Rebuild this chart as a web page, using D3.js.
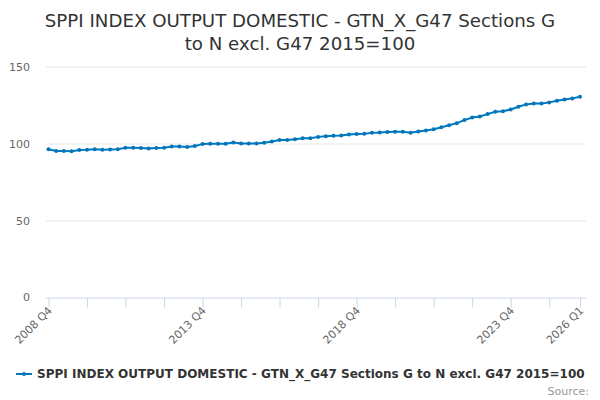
<!DOCTYPE html>
<html>
<head>
<meta charset="utf-8">
<script src="https://cdn.jsdelivr.net/npm/d3@7"></script>
<style>
  body { margin: 0; background: #fff; }
  svg { font-family: "DejaVu Sans", sans-serif; display: block; }
</style>
</head>
<body>
<div id="chart"></div>
<script>
// Quarterly periods, 2008 Q4 .. 2026 Q1
const quarters = [];
for (let y = 2008, q = 4; y < 2026 || (y === 2026 && q <= 1); ) {
  quarters.push(y + ' Q' + q);
  q++; if (q > 4) { q = 1; y++; }
}

// Index values (2015=100)
const values = [
  96.3, 95.2, 95.2, 95.0, 95.7, 95.9, 96.3, 96.0, 96.1, 96.3,
  97.2, 97.2, 97.0, 96.8, 97.0, 97.2, 98.0, 98.0, 97.8, 98.3,
  99.7, 99.8, 99.8, 99.8, 100.7, 100.0, 100.0, 100.0, 100.5, 101.3,
  102.2, 102.2, 102.8, 103.4, 103.4, 104.3, 104.7, 105.1, 105.2, 105.9,
  106.2, 106.4, 106.9, 107.2, 107.4, 107.6, 107.6, 107.0, 107.8, 108.5,
  109.3, 110.6, 111.9, 113.2, 115.2, 116.9, 117.6, 119.1, 120.6, 121.0,
  122.1, 123.9, 125.4, 126.0, 126.0, 126.7, 127.8, 128.5, 129.3, 130.4
];

const yTicks = [0, 50, 100, 150];
const labelledQuarters = ['2008 Q4', '2013 Q4', '2018 Q4', '2023 Q4', '2026 Q1'];

const titleLines = ['SPPI INDEX OUTPUT DOMESTIC - GTN_X_G47 Sections G', 'to N excl. G47 2015=100'];
const seriesName = 'SPPI INDEX OUTPUT DOMESTIC - GTN_X_G47 Sections G to N excl. G47 2015=100';

const width = 600, height = 400;
const plot = { left: 46, right: 586, top: 66.5, bottom: 297.5 };
const lineColor = '#0076bd';

const svg = d3.select('#chart').append('svg')
  .attr('width', width)
  .attr('height', height);

// Title
svg.append('text')
  .attr('x', width / 2)
  .attr('y', 27)
  .attr('text-anchor', 'middle')
  .attr('fill', '#333')
  .style('font-size', '18.2px')
  .selectAll('tspan')
  .data(titleLines)
  .enter()
  .append('tspan')
    .attr('x', width / 2)
    .attr('dy', (d, i) => i === 0 ? 0 : 23)
    .text(d => d);

// Scales
const xScale = d3.scaleLinear()
  .domain([0, quarters.length - 1])
  .range([48.5, 580]);
const yScale = d3.scaleLinear()
  .domain([0, 150])
  .range([plot.bottom, plot.top]);

// Gridlines + y labels
const yAxis = svg.append('g')
  .attr('transform', 'translate(' + plot.left + ',0)')
  .call(d3.axisLeft(yScale)
    .tickValues(yTicks.slice(1))
    .tickSize(-(plot.right - plot.left))
    .tickPadding(16));
yAxis.select('.domain').remove();
yAxis.selectAll('.tick line').attr('stroke', '#e6e6e6');
yAxis.selectAll('.tick text')
  .attr('fill', '#666')
  .style('font-size', '11px')
  .style('font-family', '"DejaVu Sans", sans-serif');
// zero label (axis line replaces its gridline)
svg.append('text')
  .attr('x', plot.left - 16)
  .attr('y', yScale(0))
  .attr('dy', '0.32em')
  .attr('text-anchor', 'end')
  .attr('fill', '#666')
  .style('font-size', '11px')
  .text(yTicks[0]);

// X axis: ticks every 5 quarters plus the last one
const tickIdx = d3.range(0, quarters.length, 5);
tickIdx.push(quarters.length - 1);
const xAxis = svg.append('g')
  .attr('transform', 'translate(0,' + plot.bottom + ')')
  .call(d3.axisBottom(xScale)
    .tickValues(tickIdx)
    .tickSize(10)
    .tickSizeOuter(0)
    .tickFormat(i => labelledQuarters.includes(quarters[i]) ? quarters[i] : ''));
xAxis.select('.domain')
  .attr('d', 'M' + plot.left + ',0.5H' + plot.right)
  .attr('stroke', '#ccd6eb');
xAxis.selectAll('.tick line').attr('stroke', '#ccd6eb');
xAxis.selectAll('.tick text')
  .attr('fill', '#666')
  .style('font-size', '11px')
  .style('font-family', '"DejaVu Sans", sans-serif')
  .attr('text-anchor', 'end')
  .attr('dy', '0.35em')
  .attr('transform', 'translate(1,11) rotate(-45)')
  .attr('y', 0)
  .attr('x', 0);

// Line
const line = d3.line()
  .x((d, i) => xScale(i))
  .y(d => yScale(d));
svg.append('path')
  .datum(values)
  .attr('d', line)
  .attr('fill', 'none')
  .attr('stroke', lineColor)
  .attr('stroke-width', 2);
svg.selectAll('circle.pt')
  .data(values)
  .enter()
  .append('circle')
    .attr('class', 'pt')
    .attr('cx', (d, i) => xScale(i))
    .attr('cy', d => yScale(d))
    .attr('r', 2)
    .attr('fill', lineColor);

// Legend
const legend = svg.append('g').attr('transform', 'translate(16,374)');
legend.append('line')
  .attr('x1', 0).attr('x2', 16)
  .attr('y1', 0).attr('y2', 0)
  .attr('stroke', lineColor)
  .attr('stroke-width', 2);
legend.append('circle')
  .attr('cx', 8).attr('cy', 0).attr('r', 2)
  .attr('fill', lineColor);
const legendText = legend.append('text')
  .attr('x', 21)
  .attr('y', 0)
  .attr('dy', '0.35em')
  .attr('fill', '#333')
  .style('font-size', '13px')
  .style('font-weight', 'bold')
  .text(seriesName);
// shrink the legend label so it fits the same span as the reference
const maxLegendWidth = 548;
const w = legendText.node().getComputedTextLength();
if (w > maxLegendWidth) {
  legendText.style('font-size', (13 * maxLegendWidth / w) + 'px');
}

// Source credit
svg.append('text')
  .attr('x', 589)
  .attr('y', 395)
  .attr('text-anchor', 'end')
  .attr('fill', '#999')
  .style('font-size', '11px')
  .text('Source:');
</script>
</body>
</html>
